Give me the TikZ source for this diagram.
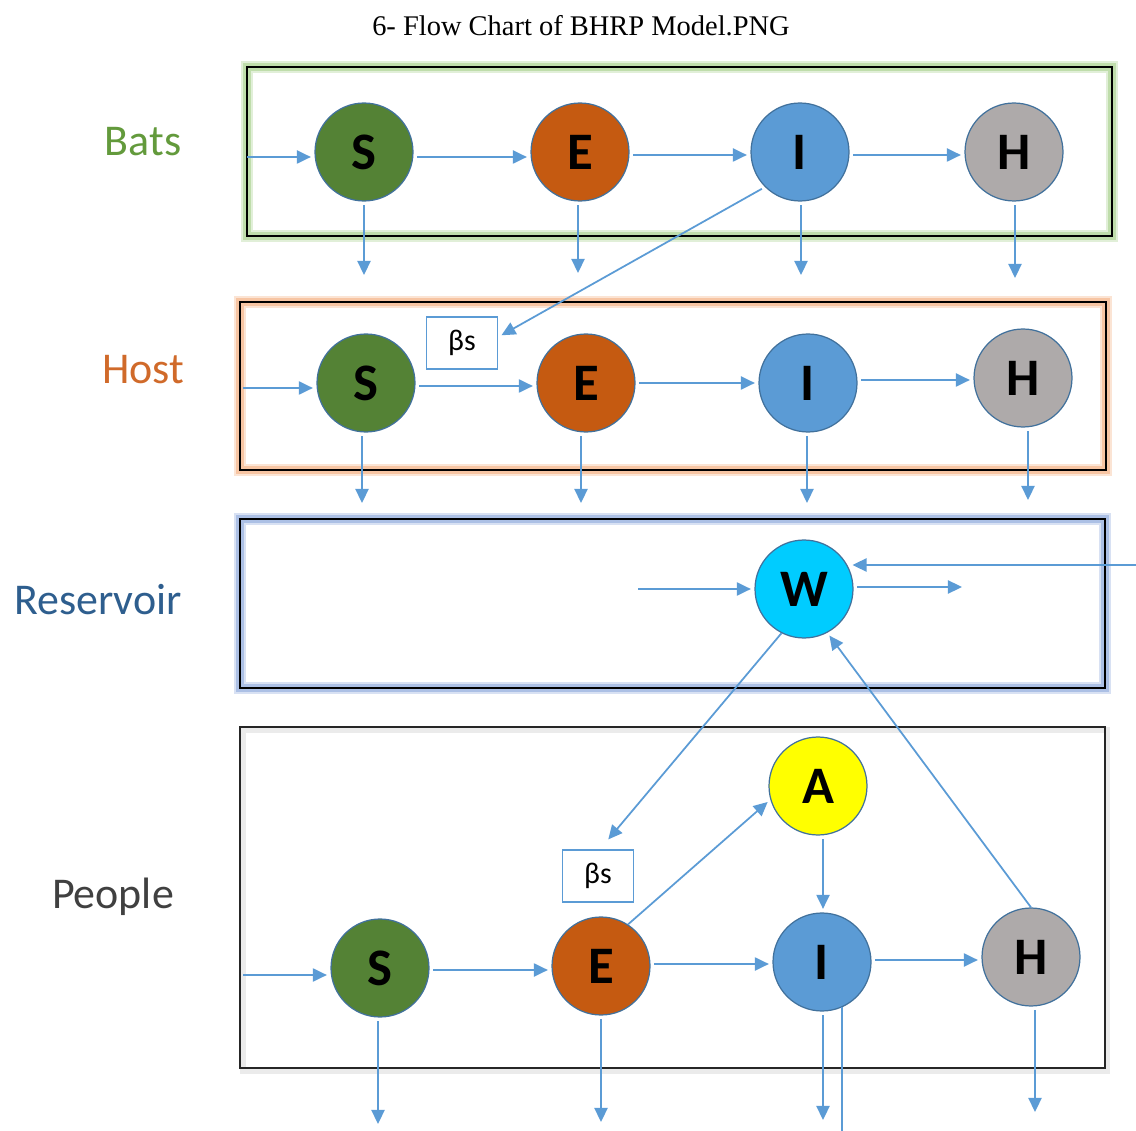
\documentclass[tikz,border=0pt]{standalone}
\usepackage{fontspec}
\setmainfont{Liberation Serif}
\newfontfamily\calfont{Carlito}
\usetikzlibrary{arrows.meta}
\definecolor{arrowc}{HTML}{5B9BD5}
\definecolor{nodeb}{HTML}{41719C}
\definecolor{cS}{HTML}{548235}
\definecolor{cE}{HTML}{C55A11}
\definecolor{cI}{HTML}{5B9BD5}
\definecolor{cH}{HTML}{AEAAAA}
\definecolor{cA}{HTML}{FFFF00}
\definecolor{cW}{HTML}{00CCFF}
\definecolor{glowG}{HTML}{A9D18E}
\definecolor{glowO}{HTML}{F4B183}
\definecolor{glowB}{HTML}{8FAADC}
\definecolor{lblG}{HTML}{639A3C}
\definecolor{lblO}{HTML}{D06A2A}
\definecolor{lblB}{HTML}{2E5E8E}
\definecolor{lblP}{HTML}{404040}
\begin{document}
\begin{tikzpicture}[x=0.02cm,y=-0.02cm,
  arr/.style={draw=arrowc, line width=1pt, -{Triangle[length=8pt,width=7.5pt]},
    shorten <=2pt, shorten >=2pt},
  ln/.style={draw=arrowc, line width=1pt},
  st/.style={circle, minimum size=1.96cm, inner sep=0pt, draw=nodeb, line width=0.7pt,
    font=\calfont\bfseries\fontsize{30}{32}\selectfont},
  lbl/.style={font=\calfont\fontsize{25}{28}\selectfont},
  bsbox/.style={draw=arrowc, line width=1pt, minimum width=1.42cm, minimum height=1.04cm,
    inner sep=0pt, fill=white, font=\calfont\fontsize{17}{19}\selectfont},
  frame/.style={draw=black, line width=1.6pt},
  glowa/.style={line width=6.5pt, draw opacity=0.35},
  glowb/.style={line width=4pt, draw opacity=0.6}]
\useasboundingbox (0,0) rectangle (1136,1131);
% title
\node[font=\fontsize{16.2}{18}\selectfont] (title) at (581,26) {6- Flow Chart of BHRP Model.PNG};

% frames
\draw[glowa, draw=glowG] (247,67) rectangle (1112,236);
\draw[glowb, draw=glowG] (247,67) rectangle (1112,236);
\draw[frame] (247,67) rectangle (1112,236);
\draw[glowa, draw=glowO] (240,302) rectangle (1106,470);
\draw[glowb, draw=glowO] (240,302) rectangle (1106,470);
\draw[frame] (240,302) rectangle (1106,470);
\draw[glowa, draw=glowB] (240,519) rectangle (1105,688);
\draw[glowb, draw=glowB] (240,519) rectangle (1105,688);
\draw[frame] (240,519) rectangle (1105,688);
\draw[line width=3pt, draw=black!8] (243,730) rectangle (1107,1071);
\draw[frame, draw=black!85] (240,727) rectangle (1105,1068);

% labels
\node[lbl, text=lblG] (lBats) at (143,142) {Bats};
\node[lbl, text=lblO] (lHost) at (143,370) {Host};
\node[lbl, text=lblB] (lRes) at (98,600) {Reservoir};
\node[lbl, text=lblP] (lPeople) at (113,897) {People};

% Bats row
\node[st, fill=cS] (bS) at (364,152) {S};
\node[st, fill=cE] (bE) at (580,152) {E};
\node[st, fill=cI] (bI) at (800,152) {I};
\node[st, fill=cH] (bH) at (1014,152) {H};

% Host row
\node[st, fill=cS] (hS) at (366,383) {S};
\node[st, fill=cE] (hE) at (586,383) {E};
\node[st, fill=cI] (hI) at (808,383) {I};
\node[st, fill=cH] (hH) at (1023,378) {H};
\node[bsbox] (hB) at (462,343) {βs};

% Reservoir
\node[st, fill=cW] (W) at (804,589) {W};

% People
\node[st, fill=cS] (pS) at (380,968) {S};
\node[st, fill=cE] (pE) at (601,966) {E};
\node[st, fill=cI] (pI) at (822,962) {I};
\node[st, fill=cH] (pH) at (1031,957) {H};
\node[st, fill=cA] (pA) at (818,786) {A};
\node[bsbox] (pB) at (598,876) {βs};

% free coordinates
\coordinate (bIn) at (247,157);
\coordinate (hIn) at (243,388);
\coordinate (pIn) at (243,975);
\coordinate (bSd) at (364,275);
\coordinate (bEd) at (578,273);
\coordinate (bId) at (801,275);
\coordinate (bHd) at (1015,278);
\coordinate (hSd) at (362,503);
\coordinate (hEd) at (581,503);
\coordinate (hId) at (807,503);
\coordinate (hHd) at (1028,500);
\coordinate (pSd) at (378,1124);
\coordinate (pEd) at (601,1122);
\coordinate (pId) at (823,1120);
\coordinate (pId2) at (843,1131);
\coordinate (pHd) at (1035,1112);
\coordinate (wIn) at (638,589);
\coordinate (wOut) at (962,587);
\coordinate (wRight) at (1136,565);
\coordinate (yb1) at (0,157);
\coordinate (yb2) at (0,155);
\coordinate (yh1) at (0,386);
\coordinate (yh2) at (0,383);
\coordinate (yh3) at (0,380);
\coordinate (yp1) at (0,970);
\coordinate (yp2) at (0,964);
\coordinate (yp3) at (0,960);

% Bats arrows
\draw[arr, shorten <=0pt] (bIn) -- (bIn -| bS.west);
\draw[arr] (bS.east |- yb1) -- (bE.west |- yb1);
\draw[arr] (bE.east |- yb2) -- (bI.west |- yb2);
\draw[arr] (bI.east |- yb2) -- (bH.west |- yb2);
\draw[arr, shorten >=0pt] (bS.south) -- (bSd);
\draw[arr, shorten >=0pt] (bE.south -| bEd) -- (bEd);
\draw[arr, shorten >=0pt] (bI.south -| bId) -- (bId);
\draw[arr, shorten >=0pt] (bH.south -| bHd) -- (bHd);
\draw[arr] (bI.225) -- ([yshift=0.12cm]hB.east);

% Host arrows
\draw[arr, shorten <=0pt] (hIn) -- (hIn -| hS.west);
\draw[arr] (hS.east |- yh1) -- (hE.west |- yh1);
\draw[arr] (hE.east |- yh2) -- (hI.west |- yh2);
\draw[arr] (hI.east |- yh3) -- (hH.west |- yh3);
\draw[arr, shorten >=0pt] (hS.south -| hSd) -- (hSd);
\draw[arr, shorten >=0pt] (hE.south -| hEd) -- (hEd);
\draw[arr, shorten >=0pt] (hI.south -| hId) -- (hId);
\draw[arr, shorten >=0pt] (hH.south -| hHd) -- (hHd);

% Reservoir arrows
\draw[arr, shorten <=0pt] (wIn) -- (W.west);
\draw[arr, shorten >=0pt] ([yshift=0.04cm]W.east) -- (wOut);
\draw[arr, shorten <=0pt] (wRight) -- (wRight -| W.25);
\draw[arr, shorten <=0pt] (W.243) -- ([xshift=0.16cm,yshift=0.14cm]pB.north);
\draw[arr, shorten <=0pt] (pH.north) -- (W.298);

% People arrows
\draw[arr, shorten <=0pt] (pIn) -- (pIn -| pS.west);
\draw[arr] (pS.east |- yp1) -- (pE.west |- yp1);
\draw[arr] (pE.east |- yp2) -- (pI.west |- yp2);
\draw[arr] (pI.east |- yp3) -- (pH.west |- yp3);
\draw[arr, shorten <=0pt] (pE.57) -- (pA.196);
\draw[arr] (pA.south -| 823,0) -- (pI.north -| 823,0);
\draw[arr, shorten >=0pt] (pS.south -| pSd) -- (pSd);
\draw[arr, shorten >=0pt] (pE.south) -- (pEd);
\draw[arr, shorten >=0pt] (pI.south -| pId) -- (pId);
\draw[ln] (pI.-66) -- (pI.-66 |- pId2);
\draw[arr, shorten >=0pt] (pH.south -| pHd) -- (pHd);
\end{tikzpicture}
\end{document}
